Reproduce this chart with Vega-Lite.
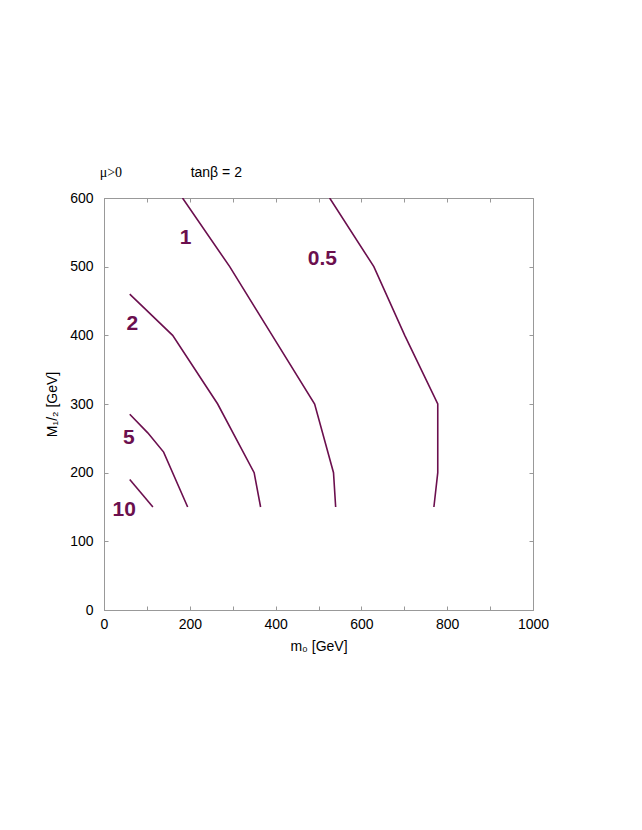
{
  "$schema": "https://vega.github.io/schema/vega-lite/v6.json",
  "width": 429,
  "height": 412,
  "autosize": "none",
  "padding": {"left": 104, "top": 198, "right": 109, "bottom": 220},
  "background": "white",
  "config": {
    "view": {"stroke": "#999999", "strokeWidth": 1},
    "font": "Liberation Sans",
    "axis": {
      "grid": false,
      "domainColor": "#999999",
      "tickColor": "#999999",
      "tickSize": -4,
      "labelFontSize": 14,
      "labelColor": "black",
      "titleFontSize": 14,
      "titleFontWeight": "normal",
      "titleColor": "black",
      "labelFont": "Liberation Sans",
      "titleFont": "Liberation Sans"
    }
  },
  "datasets": {
    "curves": [
      {"curve": "0.5", "i": 1, "m0": 526, "m12": 600},
      {"curve": "0.5", "i": 2, "m0": 629, "m12": 500},
      {"curve": "0.5", "i": 3, "m0": 701, "m12": 400},
      {"curve": "0.5", "i": 4, "m0": 778, "m12": 300},
      {"curve": "0.5", "i": 5, "m0": 778, "m12": 200},
      {"curve": "0.5", "i": 6, "m0": 769, "m12": 150},
      {"curve": "1", "i": 1, "m0": 183, "m12": 600},
      {"curve": "1", "i": 2, "m0": 293, "m12": 500},
      {"curve": "1", "i": 3, "m0": 392, "m12": 400},
      {"curve": "1", "i": 4, "m0": 491, "m12": 300},
      {"curve": "1", "i": 5, "m0": 535, "m12": 200},
      {"curve": "1", "i": 6, "m0": 540, "m12": 150},
      {"curve": "2", "i": 1, "m0": 60, "m12": 460},
      {"curve": "2", "i": 2, "m0": 160, "m12": 400},
      {"curve": "2", "i": 3, "m0": 265, "m12": 300},
      {"curve": "2", "i": 4, "m0": 350, "m12": 200},
      {"curve": "2", "i": 5, "m0": 365, "m12": 150},
      {"curve": "5", "i": 1, "m0": 60, "m12": 285},
      {"curve": "5", "i": 2, "m0": 102, "m12": 258},
      {"curve": "5", "i": 3, "m0": 139, "m12": 230},
      {"curve": "5", "i": 4, "m0": 195, "m12": 150},
      {"curve": "10", "i": 1, "m0": 60, "m12": 190},
      {"curve": "10", "i": 2, "m0": 114, "m12": 150}
    ],
    "labels": [
      {"text": "1", "m0": 190, "m12": 542},
      {"text": "0.5", "m0": 509, "m12": 511},
      {"text": "2", "m0": 66, "m12": 417},
      {"text": "5", "m0": 58, "m12": 251},
      {"text": "10", "m0": 47, "m12": 146}
    ],
    "header": [
      {"text": "μ>0", "m0": -10, "m12": 637, "font": "serif"},
      {"text": "tanβ = 2", "m0": 202, "m12": 637, "font": "sans"}
    ]
  },
  "layer": [
    {
      "data": {"name": "curves"},
      "mark": {"type": "line", "color": "#6b0f4e", "strokeWidth": 1.6, "clip": true},
      "encoding": {
        "x": {
          "field": "m0", "type": "quantitative",
          "scale": {"domain": [0, 1000], "nice": false, "zero": false},
          "axis": {
            "orient": "bottom",
            "values": [0, 100, 200, 300, 400, 500, 600, 700, 800, 900, 1000],
            "labelExpr": "datum.value % 200 == 0 ? format(datum.value, 'd') : ''",
            "title": "m₀ [GeV]",
            "labelPadding": 11,
            "titlePadding": 8,
            "labelFlush": false
          }
        },
        "y": {
          "field": "m12", "type": "quantitative",
          "scale": {"domain": [0, 600], "nice": false, "zero": false},
          "axis": {
            "orient": "left",
            "values": [0, 100, 200, 300, 400, 500, 600],
            "title": "M₁/₂ [GeV]",
            "labelPadding": 15,
            "titlePadding": 10
          }
        },
        "detail": {"field": "curve"},
        "order": {"field": "i"}
      }
    },
    {
      "data": {"name": "labels"},
      "mark": {"type": "text", "color": "#6b0f4e", "fontSize": 21, "fontWeight": "bold", "align": "center", "baseline": "middle", "font": "Liberation Sans"},
      "encoding": {
        "x": {
          "field": "m0", "type": "quantitative",
          "axis": {"orient": "top", "values": [0, 100, 200, 300, 400, 500, 600, 700, 800, 900, 1000], "labels": false, "title": null, "domain": false}
        },
        "y": {
          "field": "m12", "type": "quantitative",
          "axis": {"orient": "right", "values": [0, 100, 200, 300, 400, 500, 600], "labels": false, "title": null, "domain": false}
        },
        "text": {"field": "text"}
      }
    },
    {
      "data": {"name": "header"},
      "transform": [{"filter": "datum.font == 'serif'"}],
      "mark": {"type": "text", "color": "black", "fontSize": 14, "align": "left", "baseline": "middle", "font": "Liberation Serif"},
      "encoding": {
        "x": {"field": "m0", "type": "quantitative", "axis": null},
        "y": {"field": "m12", "type": "quantitative", "axis": null},
        "text": {"field": "text"}
      }
    },
    {
      "data": {"name": "header"},
      "transform": [{"filter": "datum.font == 'sans'"}],
      "mark": {"type": "text", "color": "black", "fontSize": 14, "align": "left", "baseline": "middle", "font": "Liberation Sans"},
      "encoding": {
        "x": {"field": "m0", "type": "quantitative", "axis": null},
        "y": {"field": "m12", "type": "quantitative", "axis": null},
        "text": {"field": "text"}
      }
    }
  ],
  "resolve": {"axis": {"x": "independent", "y": "independent"}}
}
